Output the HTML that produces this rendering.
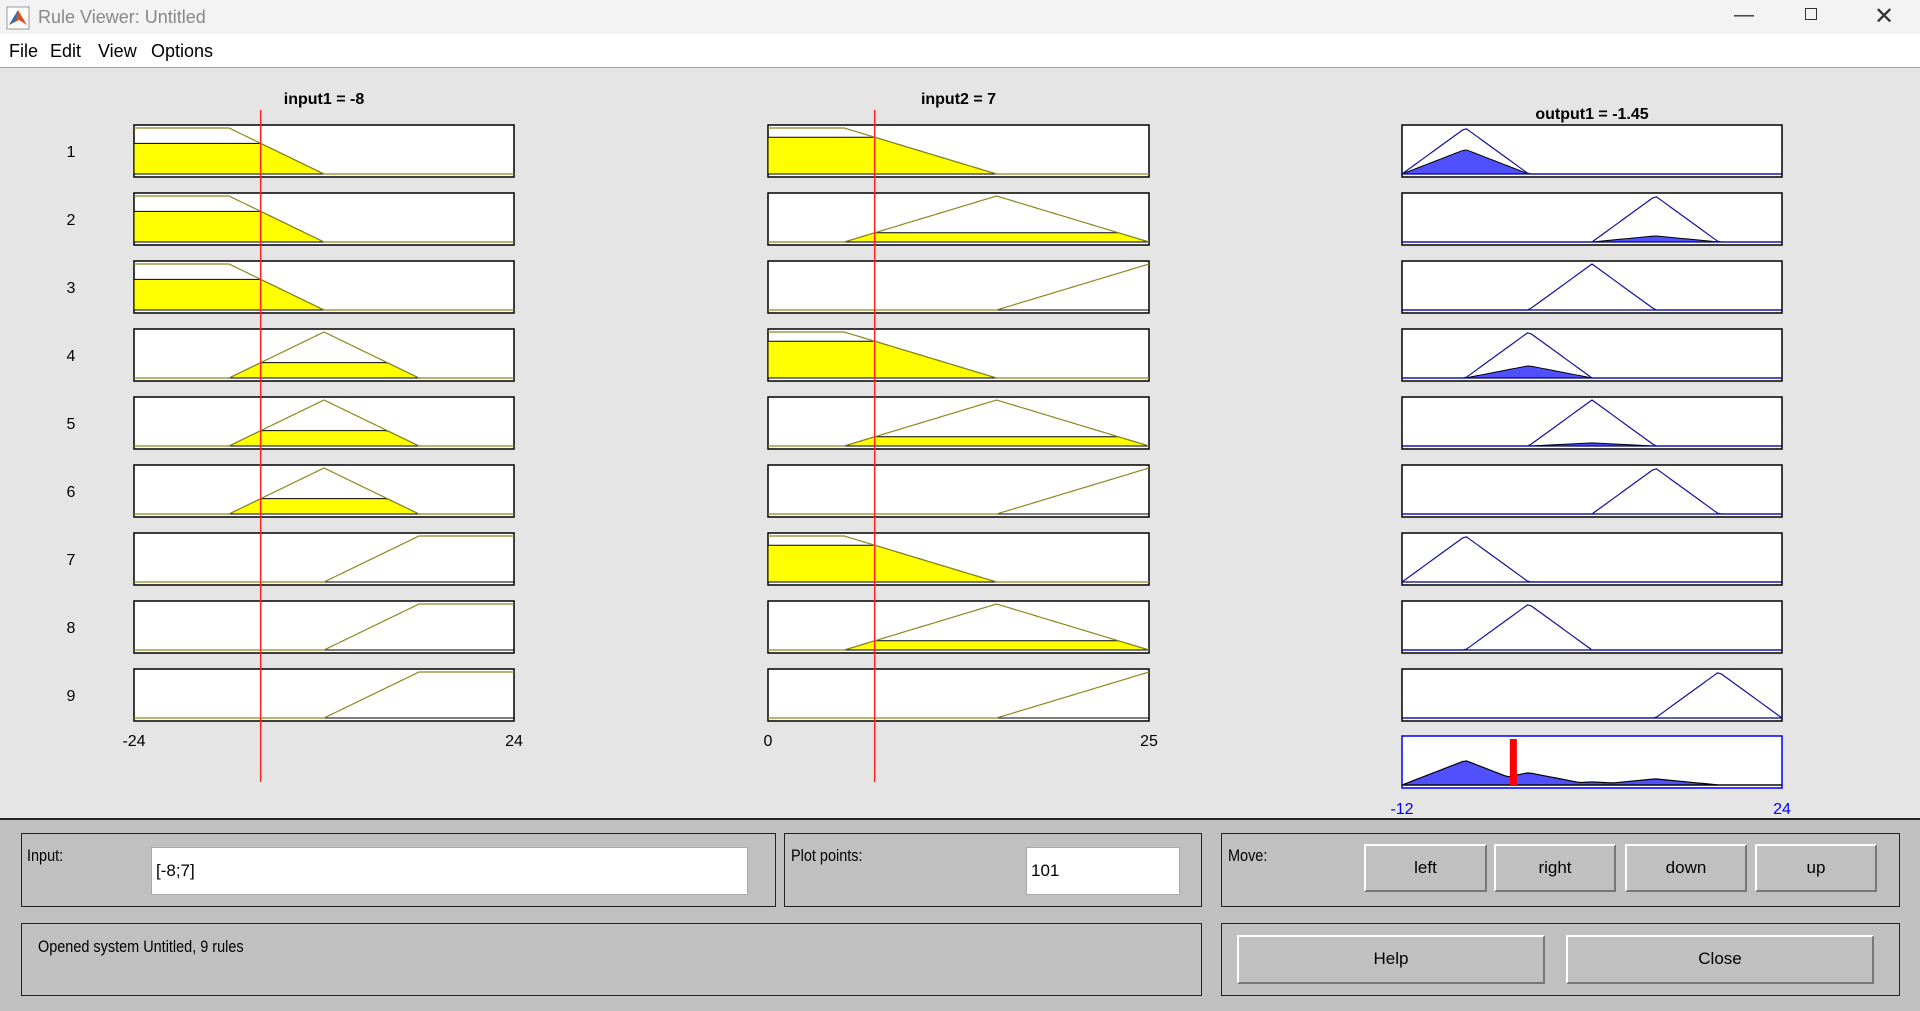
<!DOCTYPE html>
<html><head><meta charset="utf-8"><style>
html,body{margin:0;padding:0;width:1920px;height:1009px;overflow:hidden;background:#e5e5e5;font-family:"Liberation Sans",sans-serif;}
#titlebar{position:absolute;left:0;top:0;width:1920px;height:34px;background:#f3f3f3;}
#titlebar .t{position:absolute;left:38px;top:7px;font-size:18px;color:#888;}
#menubar{position:absolute;left:0;top:34px;width:1920px;height:33px;background:#fff;border-bottom:1px solid #a0a0a0;}
#menubar span{position:absolute;top:7px;font-size:18px;color:#000;}
#bottom{position:absolute;left:0;top:818px;width:1920px;height:191px;background:#c0c0c0;border-top:2px solid #222;}
.frame{position:absolute;border:1.5px solid #222;box-sizing:border-box;}
.lbl{position:absolute;font-size:17px;color:#000;transform:scaleX(0.85);transform-origin:left top;}
.field{position:absolute;background:#fff;border:1px solid #aaa;box-sizing:border-box;font-size:17px;padding-left:4px;line-height:46px;}
.btn{position:absolute;background:#c0c0c0;border-top:2px solid #fff;border-left:2px solid #fff;border-right:2px solid #777;border-bottom:2px solid #777;box-sizing:border-box;text-align:center;font-size:17px;line-height:44px;}
svg{position:absolute;left:0;top:0;}
</style></head><body>
<div id="titlebar">
 <svg width="24" height="24" style="left:6px;top:6px"><rect x="1" y="1" width="22" height="22" fill="#fff" stroke="#999"/><polygon points="3,19 12,4 21,19 13,14" fill="#d9531e"/><polygon points="3,19 12,4 10,15" fill="#2a6fb5"/></svg>
 <span class="t">Rule Viewer: Untitled</span>
 <span style="position:absolute;left:1734px;top:4px;font-size:20px;color:#333">—</span>
 <span style="position:absolute;left:1805px;top:8px;width:12px;height:12px;border:1.5px solid #333;box-sizing:border-box"></span>
 <span style="position:absolute;left:1874px;top:2px;font-size:24px;color:#333">✕</span>
</div>
<div id="menubar">
 <span style="left:9px">File</span>
 <span style="left:50px">Edit</span>
 <span style="left:98px">View</span>
 <span style="left:151px">Options</span>
</div>
<svg id="plots" width="1920" height="1009"></svg>
<div id="bottom">
 <div class="frame" style="left:21px;top:13px;width:755px;height:74px"></div>
 <div class="lbl" style="left:27px;top:26px">Input:</div>
 <div class="field" style="left:151px;top:27px;width:597px;height:48px">[-8;7]</div>
 <div class="frame" style="left:784px;top:13px;width:418px;height:74px"></div>
 <div class="lbl" style="left:791px;top:26px">Plot points:</div>
 <div class="field" style="left:1026px;top:27px;width:154px;height:48px">101</div>
 <div class="frame" style="left:1221px;top:13px;width:679px;height:74px"></div>
 <div class="lbl" style="left:1228px;top:26px">Move:</div>
 <div class="btn" style="left:1364px;top:24px;width:123px;height:48px">left</div>
 <div class="btn" style="left:1494px;top:24px;width:122px;height:48px">right</div>
 <div class="btn" style="left:1625px;top:24px;width:122px;height:48px">down</div>
 <div class="btn" style="left:1755px;top:24px;width:122px;height:48px">up</div>
 <div class="frame" style="left:21px;top:103px;width:1181px;height:73px"></div>
 <div class="lbl" style="left:38px;top:117px">Opened system Untitled, 9 rules</div>
 <div class="frame" style="left:1221px;top:103px;width:679px;height:73px"></div>
 <div class="btn" style="left:1237px;top:115px;width:308px;height:49px">Help</div>
 <div class="btn" style="left:1566px;top:115px;width:308px;height:49px">Close</div>
</div>
<script>
const inputValues = [-8, 7];
const outputValue = -1.45;
const inputRanges = [[-24, 24], [0, 25]];
const outputRange = [-12, 24];
const input1MFs = [[-48, -36, -12, 0], [-12, 0, 0, 12], [0, 12, 24, 36]];
const input2MFs = [[-10, 0, 5, 15], [5, 15, 15, 25], [15, 25, 25, 35]];
const outputMFs = [[-12, -6, -6, 0], [-6, 0, 0, 6], [0, 6, 6, 12], [6, 12, 12, 18], [12, 18, 18, 24]];
const ruleInput1 = [0, 0, 0, 1, 1, 1, 2, 2, 2];
const ruleInput2 = [0, 1, 2, 0, 1, 2, 0, 1, 2];
const ruleOutput = [0, 3, 2, 1, 2, 3, 0, 1, 4];
const tickLabels1 = ["-24", "24"];
const tickLabels2 = ["0", "25"];
const tickLabelsOut = ["-12", "24"];

const NS = "http://www.w3.org/2000/svg";
const svg = document.getElementById("plots");
const cols = [{x0:134,x1:514},{x0:768,x1:1149},{x0:1402,x1:1782}];
const rowTop = 125, rowH = 52, pitch = 68, N = 101;
function el(tag, attrs, parent){const e=document.createElementNS(NS,tag);for(const k in attrs)e.setAttribute(k,attrs[k]);(parent||svg).appendChild(e);return e;}
function trap(p,x){const [a,b,c,d]=p;if(x<a||x>d)return 0;if(x>=b&&x<=c)return 1;if(x<b)return (x-a)/(b-a);return (d-x)/(d-c);}
function xs(col,range){return v=>col.x0+(v-range[0])/(range[1]-range[0])*(col.x1-col.x0);}
function ys(top){return m=>top+rowH-3-m*(rowH-6);}
function pts(range,fn){const a=[];for(let i=0;i<N;i++){const v=range[0]+(range[1]-range[0])*i/(N-1);a.push([v,fn(v)]);}return a;}

const deg1 = ruleInput1.map(i=>trap(input1MFs[i],inputValues[0]));
const deg2 = ruleInput2.map(i=>trap(input2MFs[i],inputValues[1]));
const firing = deg1.map((d,i)=>d*deg2[i]);

function box(col,top,name,stroke){
  const r=el("rect",{x:col.x0,y:top,width:col.x1-col.x0,height:rowH,fill:"#fff",stroke:stroke||"#000","stroke-width":1.5});
  
  
}
function inputPlot(c,range,mf,deg,top,name){
  const col=cols[c],X=xs(col,range),Y=ys(top);
  box(col,top,name);
  const p=pts(range,v=>trap(mf,v));
  if(deg>0){
    const f=p.map(([v,m])=>[X(v),Y(Math.min(m,deg))]);
    const d="M"+X(range[0])+","+Y(0)+" L"+f.map(q=>q.join(",")).join(" L")+" L"+X(range[1])+","+Y(0)+"Z";
    const fp=el("path",{d:d,fill:"#ffff00",stroke:"#000","stroke-width":1});
    
    
  }
  el("line",{x1:col.x0,x2:col.x1,y1:Y(0),y2:Y(0),stroke:"#000","stroke-width":1});
  const l=el("polyline",{points:p.map(([v,m])=>X(v)+","+Y(m)).join(" "),fill:"none",stroke:"#8a8a20","stroke-width":1.2});
  
  
}
for(let r=0;r<9;r++){
  const top=rowTop+r*pitch;
  const t=el("text",{x:71,y:top+rowH/2+6,"font-size":16,"text-anchor":"middle","font-family":"Liberation Sans"});t.textContent=String(r+1);
  
  
  inputPlot(0,inputRanges[0],input1MFs[ruleInput1[r]],deg1[r],top,"rule"+(r+1)+"-input1");
  inputPlot(1,inputRanges[1],input2MFs[ruleInput2[r]],deg2[r],top,"rule"+(r+1)+"-input2");
  const col=cols[2],X=xs(col,outputRange),Y=ys(top);
  box(col,top,"rule"+(r+1)+"-output");
  const mf=outputMFs[ruleOutput[r]];
  const p=pts(outputRange,v=>trap(mf,v));
  if(firing[r]>0){
    const f=p.map(([v,m])=>X(v)+","+Y(m*firing[r]));
    const fp=el("path",{d:"M"+X(outputRange[0])+","+Y(0)+" L"+f.join(" L")+" L"+X(outputRange[1])+","+Y(0)+"Z",fill:"#5050ff",stroke:"#000","stroke-width":1});
    
    
  }
  el("line",{x1:col.x0,x2:col.x1,y1:Y(0),y2:Y(0),stroke:"#000080","stroke-width":1.2});
  const l=el("polyline",{points:p.map(([v,m])=>X(v)+","+Y(m)).join(" "),fill:"none",stroke:"#1010a0","stroke-width":1.2});
  
  
}
// aggregate
{
  const col=cols[2],top=736,X=xs(col,outputRange),Y=ys(top);
  box(col,top,"aggregate-output","#0000ff");
  const p=pts(outputRange,v=>{let m=0;for(let r=0;r<9;r++)m=Math.max(m,trap(outputMFs[ruleOutput[r]],v)*firing[r]);return m;});
  const f=p.map(([v,m])=>X(v)+","+Y(m));
  const a=el("path",{d:"M"+X(outputRange[0])+","+Y(0)+" L"+f.join(" L")+" L"+X(outputRange[1])+","+Y(0)+"Z",fill:"#5050ff",stroke:"#000","stroke-width":1.2});
  
  
  el("line",{x1:col.x0,x2:col.x1,y1:Y(0),y2:Y(0),stroke:"#000","stroke-width":1.2});
  const b=el("rect",{x:X(outputValue)-3.5,y:top+3,width:7,height:rowH-6,fill:"#ff0000"});
  
  
}
// input lines
[0,1].forEach(c=>{
  const X=xs(cols[c],inputRanges[c]);
  const l=el("line",{x1:X(inputValues[c]),x2:X(inputValues[c]),y1:110,y2:782,stroke:"#ff2020","stroke-width":1.5});
  
  
});
function label(x,y,txt,name,opts){
  const t=el("text",Object.assign({x:x,y:y,"font-size":16,"text-anchor":"middle","font-family":"Liberation Sans"},opts||{}));t.textContent=txt;
  
  
}
label((cols[0].x0+cols[0].x1)/2,104,"input1 = "+inputValues[0],"input1-title",{"font-weight":"bold"});
label((cols[1].x0+cols[1].x1)/2,104,"input2 = "+inputValues[1],"input2-title",{"font-weight":"bold"});
label((cols[2].x0+cols[2].x1)/2,119,"output1 = "+outputValue,"output1-title",{"font-weight":"bold"});
label(cols[0].x0,746,tickLabels1[0],"input1-min-tick");
label(cols[0].x1,746,tickLabels1[1],"input1-max-tick");
label(cols[1].x0,746,tickLabels2[0],"input2-min-tick");
label(cols[1].x1,746,tickLabels2[1],"input2-max-tick");
label(cols[2].x0,814,tickLabelsOut[0],"output-min-tick",{fill:"#0000ff"});
label(cols[2].x1,814,tickLabelsOut[1],"output-max-tick",{fill:"#0000ff"});
</script>
</body></html>
